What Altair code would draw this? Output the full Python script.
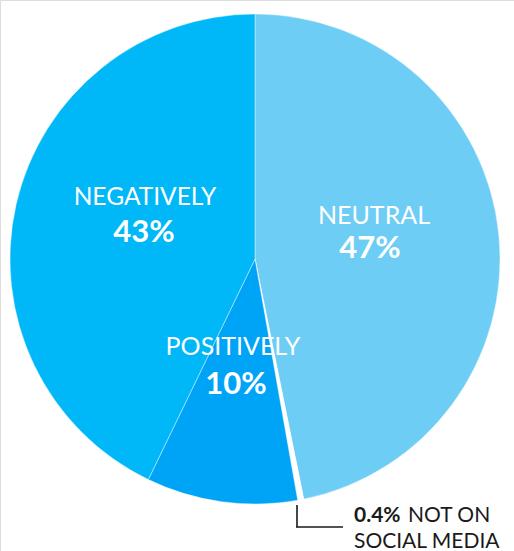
import altair as alt
import pandas as pd

categories = ["NEUTRAL", "NOT ON SOCIAL MEDIA", "POSITIVELY", "NEGATIVELY"]
values = [47, 0.4, 10, 43]
colors = ["#6dcdf5", "#ffffff", "#00a4f7", "#00b8f8"]

df = pd.DataFrame({"category": categories, "value": values, "order": list(range(len(categories)))})

CX, CY, R = 255, 259, 245
FONT = "Lato"

pie = alt.Chart(df).mark_arc(radius=R, stroke="white", strokeWidth=0.4).encode(
    theta=alt.Theta("value:Q", stack=True),
    color=alt.Color("category:N", scale=alt.Scale(domain=categories, range=colors), legend=None),
    order=alt.Order("order:Q"),
    x=alt.value(CX),
    y=alt.value(CY),
)

base = alt.Chart(pd.DataFrame({"a": [0]}))


def label(text, x, y, size, weight, color="white", align="center"):
    return base.mark_text(
        font=FONT, fontSize=size, fontWeight=weight, color=color, align=align, baseline="alphabetic"
    ).encode(x=alt.value(x), y=alt.value(y), text=alt.datum(text))


def pct(v):
    return f"{v:g}%"


layers = [
    pie,
    label(categories[3], 145, 205, 24.5, "normal"),
    label(pct(values[3]), 144, 242, 31, "bold"),
    label(categories[0], 374, 224, 25, "normal"),
    label(pct(values[0]), 370, 258, 31, "bold"),
    label(categories[2], 233, 355, 25, "normal"),
    label(pct(values[2]), 236, 394, 31, "bold"),
    label(pct(values[1]), 354, 522, 21, "bold", color="#1a1a1a", align="left"),
    label("NOT ON", 408, 522, 21, "normal", color="#1a1a1a", align="left"),
    label("SOCIAL MEDIA", 354, 548, 21, "normal", color="#1a1a1a", align="left"),
    base.mark_rule(color="#1a1a1a", strokeWidth=1.6).encode(
        x=alt.value(297), y=alt.value(505), y2=alt.value(527.5)
    ),
    base.mark_rule(color="#1a1a1a", strokeWidth=1.6).encode(
        x=alt.value(296.2), x2=alt.value(343), y=alt.value(527)
    ),
]

chart = alt.layer(*layers).properties(
    width=514, height=551, autosize=alt.AutoSizeParams(type="none"), padding=0
).configure_view(stroke=None).configure(background="white")

chart.save("out.html", embed_options={"renderer": "svg", "actions": False})
